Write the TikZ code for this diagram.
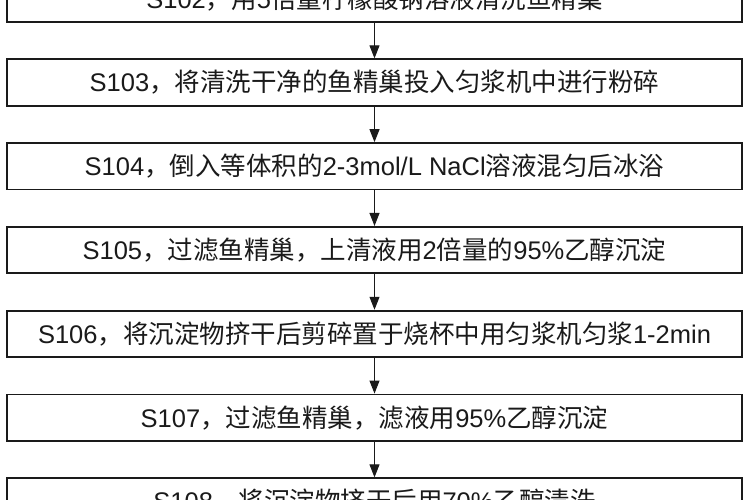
\documentclass[tikz,border=0pt]{standalone}
\usepackage{fontspec}
\setmainfont{Liberation Sans}
\newfontfamily\cjk{Noto Sans CJK SC}
\usetikzlibrary{arrows.meta}
\definecolor{ink}{HTML}{1A1A1A}
\tikzset{
  stepbox/.style={draw=ink, line width=1.8pt, minimum width=735pt, minimum height=46.5pt,
    inner sep=0pt, text=ink, font=\fontsize{25.5}{30}\selectfont},
  arr/.style={draw=ink, line width=1pt, -{Triangle[width=10pt,length=13pt]}}
}
\begin{document}
\begin{tikzpicture}[x=1pt,y=1pt]
\clip (0,0) rectangle (750,-500);
\fill[white] (0,0) rectangle (750,-500);
\node[stepbox] (s102) at (374.5,1.3) {S102{\cjk ，用}5{\cjk 倍量柠檬酸钠溶液清洗鱼精巢}};
\node[stepbox] (s103) at (374.5,-82.5) {S103{\cjk ，将清洗干净的鱼精巢投入匀浆机中进行粉碎}};
\node[stepbox] (s104) at (374.5,-166.3) {S104{\cjk ，倒入等体积的}2-3mol/L NaCl{\cjk 溶液混匀后冰浴}};
\node[stepbox] (s105) at (374.5,-250.1) {S105{\cjk ，过滤鱼精巢，上清液用}2{\cjk 倍量的}95\%{\cjk 乙醇沉淀}};
\node[stepbox] (s106) at (374.5,-333.9) {S106{\cjk ，将沉淀物挤干后剪碎置于烧杯中用匀浆机匀浆}1-2min};
\node[stepbox] (s107) at (374.5,-417.7) {S107{\cjk ，过滤鱼精巢，滤液用}95\%{\cjk 乙醇沉淀}};
\node[stepbox] (s108) at (374.5,-501.5) {S108{\cjk ，将沉淀物挤干后用}70\%{\cjk 乙醇清洗}};
\draw[arr] (s102.south) -- (s103.north);
\draw[arr] (s103.south) -- (s104.north);
\draw[arr] (s104.south) -- (s105.north);
\draw[arr] (s105.south) -- (s106.north);
\draw[arr] (s106.south) -- (s107.north);
\draw[arr] (s107.south) -- (s108.north);
\end{tikzpicture}
\end{document}
